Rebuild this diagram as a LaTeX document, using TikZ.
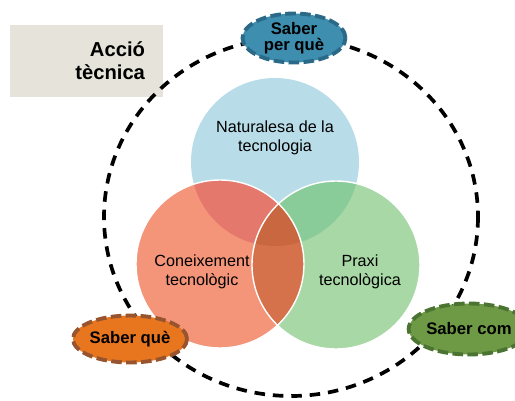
\documentclass[tikz,border=0pt]{standalone}
\usepackage{fontspec}
\setmainfont{Liberation Sans}
\usetikzlibrary{shapes.geometric}

\definecolor{blau}{HTML}{B8DCE8}
\definecolor{verd}{HTML}{A8D8A6}
\definecolor{taronja}{HTML}{F4957A}
\definecolor{blauverd}{HTML}{8ACC99}
\definecolor{blautaronja}{HTML}{E4786C}
\definecolor{verdtaronja}{HTML}{D5724C}
\definecolor{tots}{HTML}{C96840}
\definecolor{caixagris}{HTML}{E6E4DA}
\definecolor{perque}{HTML}{3E8EAF}
\definecolor{perquevora}{HTML}{2A6A88}
\definecolor{que}{HTML}{E8761E}
\definecolor{quevora}{HTML}{97542E}
\definecolor{com}{HTML}{6E9A45}
\definecolor{comvora}{HTML}{4B7332}

\begin{document}
\begin{tikzpicture}[x=0.02cm,y=-0.02cm,
    saber/.style={ellipse,draw,line width=2.2pt,dash pattern=on 6pt off 2.5pt,
                  inner sep=0pt,align=center,font=\bfseries\fontsize{9.5}{9}\selectfont},
    text cercle/.style={align=center,font=\fontsize{9.2}{11}\selectfont},
    anella/.style={line width=2.1pt,dash pattern=on 6pt off 4.5pt}]

  \useasboundingbox (0,0) rectangle (515,400);

  % caixa del titol
  \node[fill=caixagris,minimum width=3.06cm,minimum height=1.44cm] (accio) at (86.5,61) {};
  \node[anchor=east,align=right,inner sep=0pt,font=\bfseries\fontsize{11.5}{13}\selectfont]
    (accio text) at ([xshift=-0.36cm]accio.east) {Acció\\tècnica};

  % centres dels cercles
  \coordinate (cb) at (275,162);
  \coordinate (co) at (220,264);
  \coordinate (cg) at (336,265);

  \fill[blau] (cb) circle[radius=84];
  \fill[verd] (cg) circle[radius=84];
  \fill[taronja] (co) circle[radius=84];
  \begin{scope}
    \clip (cb) circle[radius=84];
    \fill[blauverd] (cg) circle[radius=84];
    \fill[blautaronja] (co) circle[radius=84];
  \end{scope}
  \begin{scope}
    \clip (cg) circle[radius=84];
    \fill[verdtaronja] (co) circle[radius=84];
    \clip (cb) circle[radius=84];
    \fill[tots] (co) circle[radius=84];
  \end{scope}
  \draw[white,line width=0.8pt] (cg) circle[radius=84];
  \draw[white,line width=0.8pt] (co) circle[radius=84];

  \node[text cercle] (nat) at (275,138) {Naturalesa de la\\tecnologia};
  \node[text cercle] (con) at (202,272) {Coneixement\\tecnològic};
  \node[text cercle] (pra) at (360,272) {Praxi\\tecnològica};

  % anella discontinua
  \draw[anella] (291,217) ellipse [x radius=187, y radius=179];

  \node[saber,fill=perque,draw=perquevora,minimum width=2.06cm,minimum height=0.98cm]
    (perque) at (294,38) {Saber\\per què};
  \node[saber,fill=que,draw=quevora,minimum width=1.9cm,minimum height=0.94cm]
    (que) at (130,339) {Saber què};
  \node[saber,fill=com,draw=comvora,minimum width=1.9cm,minimum height=1.02cm]
    (com) at (469,329) {Saber com};
\end{tikzpicture}
\end{document}
